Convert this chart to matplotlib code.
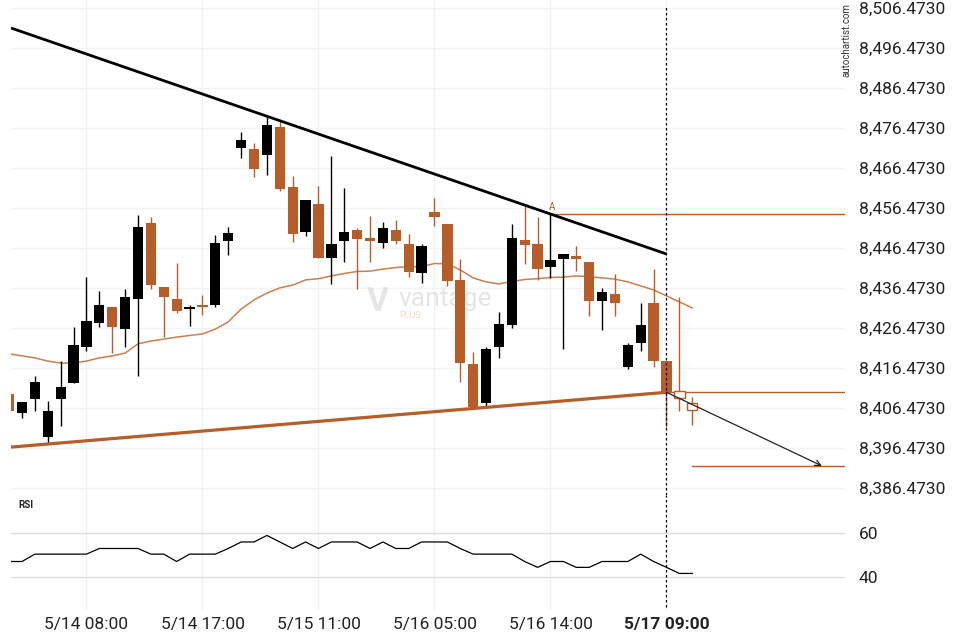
import numpy as np
import matplotlib.pyplot as plt
from matplotlib.ticker import FixedLocator, FuncFormatter

plt.rcParams['font.family'] = ['Roboto', 'DejaVu Sans']

# candle data (index -1 .. 52), prices
opens = [8410.0, 8405.1, 8408.6, 8399.3, 8408.8, 8412.8, 8421.8, 8427.8, 8431.7, 8426.3,
         8433.8, 8452.7, 8436.7, 8433.7, 8431.2, 8432.3, 8432.3, 8448.3, 8471.5, 8471.2,
         8469.8, 8476.7, 8461.7, 8450.5, 8457.5, 8444.0, 8448.1, 8451.0, 8449.0, 8447.6,
         8451.0, 8447.5, 8440.1, 8455.5, 8452.5, 8438.5, 8417.5, 8407.8, 8421.6, 8427.1,
         8448.5, 8447.5, 8441.6, 8443.6, 8444.4, 8443.0, 8433.1, 8435.0, 8416.8, 8422.8,
         8432.6, 8418.2, 8410.6, 8407.7]
highs = [8410.0, 8408.0, 8414.5, 8408.2, 8418.1, 8426.6, 8439.1, 8435.6, 8431.7, 8436.1,
         8454.6, 8454.1, 8436.7, 8442.6, 8432.1, 8434.6, 8449.6, 8451.7, 8475.4, 8472.6,
         8479.3, 8478.3, 8464.4, 8458.5, 8461.9, 8469.4, 8461.4, 8451.5, 8454.5, 8453.0,
         8453.5, 8450.0, 8447.5, 8459.0, 8452.5, 8443.8, 8420.4, 8421.8, 8430.4, 8452.5,
         8457.0, 8454.3, 8455.1, 8444.9, 8447.0, 8443.0, 8436.4, 8439.9, 8422.6, 8432.6,
         8441.1, 8418.2, 8434.1, 8409.2]
lows = [8405.5, 8403.9, 8405.8, 8397.6, 8402.0, 8412.6, 8420.7, 8426.6, 8420.1, 8421.6,
        8414.4, 8436.1, 8424.1, 8430.1, 8427.0, 8429.6, 8431.6, 8444.6, 8468.9, 8464.1,
        8464.6, 8460.8, 8447.9, 8449.4, 8444.0, 8437.4, 8442.9, 8436.1, 8442.9, 8446.4,
        8447.4, 8439.1, 8437.6, 8451.9, 8436.9, 8412.9, 8406.5, 8407.0, 8418.9, 8426.4,
        8442.4, 8438.5, 8439.0, 8421.1, 8440.6, 8429.5, 8425.9, 8429.5, 8416.1, 8420.7,
        8416.6, 8401.8, 8405.7, 8402.1]
closes = [8405.6, 8408.0, 8413.0, 8405.7, 8411.7, 8422.2, 8428.2, 8432.2, 8426.8, 8434.2,
          8451.7, 8437.3, 8434.3, 8430.8, 8431.7, 8431.8, 8447.7, 8450.2, 8473.5, 8466.3,
          8477.2, 8461.3, 8450.0, 8458.5, 8444.0, 8447.5, 8450.5, 8448.6, 8448.1, 8451.5,
          8448.1, 8440.5, 8447.0, 8454.1, 8438.1, 8417.6, 8406.8, 8421.1, 8427.5, 8449.0,
          8447.1, 8441.1, 8443.5, 8444.9, 8443.6, 8433.3, 8435.5, 8432.6, 8422.1, 8427.2,
          8418.3, 8410.4, 8408.9, 8405.9]
ma = [8420.0, 8419.5, 8419.0, 8418.2, 8417.7, 8417.7, 8418.2, 8419.0, 8419.5, 8420.2,
      8422.5, 8423.2, 8423.7, 8424.2, 8424.6, 8425.0, 8426.2, 8428.0, 8431.2, 8433.5,
      8435.2, 8436.5, 8437.2, 8438.5, 8438.8, 8439.5, 8440.1, 8440.6, 8440.7, 8441.2,
      8441.6, 8441.8, 8441.8, 8442.6, 8442.5, 8441.0, 8439.0, 8438.0, 8437.5, 8438.1,
      8438.6, 8438.8, 8439.1, 8439.2, 8439.5, 8439.3, 8439.0, 8438.7, 8438.0, 8437.0,
      8436.0, 8434.5, 8433.0, 8431.5]
rsi = [47, 47, 50.4, 50.4, 50.4, 50.4, 50.4, 53, 53, 53,
       53, 50.4, 50.4, 47, 50.4, 50.4, 50.4, 53, 56, 56,
       59, 56, 53, 56, 53, 56, 56, 56, 53, 56,
       53, 53, 56, 56, 56, 53, 50.4, 50.4, 50.4, 50.4,
       47, 44.3, 47, 47, 44.3, 44.3, 47, 47, 47, 50.4,
       47, 44.3, 41.5, 41.5]
hollow_from = 51  # candles after the pattern end

tick_idx = [5, 14, 23, 32, 41, 50]
tick_labels = ['5/14 08:00', '5/14 17:00', '5/15 11:00', '5/16 05:00', '5/16 14:00', '5/17 09:00']
price_ticks = [8386.473 + 10 * k for k in range(13)]
rsi_ticks = [40, 60]

# pattern lines
resist = ([-0.853, 50], [8501.47, 8444.97])
support = ([-0.853, 50], [8396.7, 8410.4])
level_a = 8454.9
level_break = 8410.4
level_target = 8392.0
arrow_end = (62.06, 8392.0)

ORANGE = '#b75d29'
MA_COL = '#cc7e50'
W, H = 960, 640


def rect(l, t, r, b):
    return [l / W, 1 - b / H, (r - l) / W, (b - t) / H]


fig = plt.figure(figsize=(9.6, 6.4), dpi=100)
ax = fig.add_axes(rect(11, 0, 845, 495))
rax = fig.add_axes(rect(11, 495, 845, 610), sharex=ax)

x = np.arange(-1, len(opens) - 1)
o = np.array(opens); c = np.array(closes)
hi = np.array(highs); lo = np.array(lows)
up = c >= o
cols = np.where(up, 'black', ORANGE)

for a in (ax, rax):
    for s in a.spines.values():
        s.set_visible(False)
    for t in tick_idx:
        a.axvline(t, color='#f0f0f0', lw=1, zorder=0)

for p in price_ticks:
    ax.axhline(p, color='#f3f3f3', lw=1, zorder=0)

ax.plot(x, ma, color=MA_COL, lw=1.1, zorder=2)

for i in range(len(x)):
    ax.vlines(x[i], lo[i], hi[i], color=cols[i], lw=1, zorder=3)
    bot = min(o[i], c[i]); hgt = max(abs(c[i] - o[i]), 0.4)
    if x[i] >= hollow_from:
        ax.bar(x[i], hgt, bottom=bot, width=0.8, facecolor='white',
               edgecolor=ORANGE, linewidth=1, zorder=4)
    else:
        ax.bar(x[i], hgt, bottom=bot, width=0.8, color=cols[i], linewidth=0, zorder=4)

ax.plot(*resist, color='black', lw=2, zorder=5, solid_capstyle='butt')
ax.plot(*support, color=ORANGE, lw=2.3, zorder=5, solid_capstyle='butt')
ax.plot([41, 70], [level_a, level_a], color=ORANGE, lw=1, zorder=2)
ax.plot([50, 70], [level_break, level_break], color=ORANGE, lw=1, zorder=2)
ax.plot([52, 70], [level_target, level_target], color=ORANGE, lw=1, zorder=2)
ax.text(41.1, level_a + 0.6, 'A', color=ORANGE, fontsize=7, ha='center', va='bottom')
ax.annotate('', xy=arrow_end, xytext=(50, level_break),
            arrowprops=dict(arrowstyle='->', color='#222222', lw=0.9,
                            shrinkA=0, shrinkB=0, mutation_scale=10), zorder=6)

ax.axvline(50, ymin=0, ymax=1 - 5 / 495, color='black', lw=0.9,
           dashes=(2, 2), zorder=7)
rax.axvline(50, ymin=3 / 115, ymax=1, color='black', lw=0.9, dashes=(2, 2), zorder=7)

# watermark
ax.text(27.6, 8433.0, 'V', fontsize=24, color='#d9dcdc', alpha=0.7,
        ha='center', va='center', fontweight='bold', zorder=1)
ax.text(29.2, 8433.6, 'vantage', fontsize=19, color='#dde0e0', alpha=0.8,
        ha='left', va='center', zorder=1)
ax.text(29.3, 8429.6, 'PLUS', fontsize=6.5, color='#f2d7c7', ha='left',
        va='center', zorder=1)

ax.set_xlim(-0.853, 63.85)
ax.set_ylim(8384.723, 8508.473)
ax.yaxis.tick_right()
ax.yaxis.set_major_locator(FixedLocator(price_ticks))
ax.yaxis.set_major_formatter(FuncFormatter(lambda v, p: f'{v:,.4f}'))
ax.tick_params(axis='y', length=0, pad=10, labelsize=12.5, labelcolor='#222222')
ax.tick_params(axis='x', length=0, labelbottom=False)

rax.plot(x, rsi, color='black', lw=0.9, zorder=3)
for r in rsi_ticks:
    rax.axhline(r, color='#dddddd', lw=1, zorder=0)
rax.set_ylim(24.65, 77.65)
rax.yaxis.tick_right()
rax.yaxis.set_major_locator(FixedLocator(rsi_ticks))
rax.tick_params(axis='y', length=0, pad=10, labelsize=12.5, labelcolor='#222222')
rax.set_xticks(tick_idx)
rax.set_xticklabels(tick_labels)
rax.tick_params(axis='x', length=0, pad=5, labelsize=12.5, labelcolor='#222222')
rax.get_xticklabels()[-1].set_fontweight('bold')
rax.text(-0.25, 73.2, 'RSI', fontsize=7, fontweight='bold', color='#222222',
         ha='left', va='center')

fig.text(846 / W, 1 - 40 / H, 'autochartist.com', rotation=90, fontsize=7,
         color='#333333', ha='center', va='center')

fig.savefig('out.png', dpi=100, facecolor='white')
